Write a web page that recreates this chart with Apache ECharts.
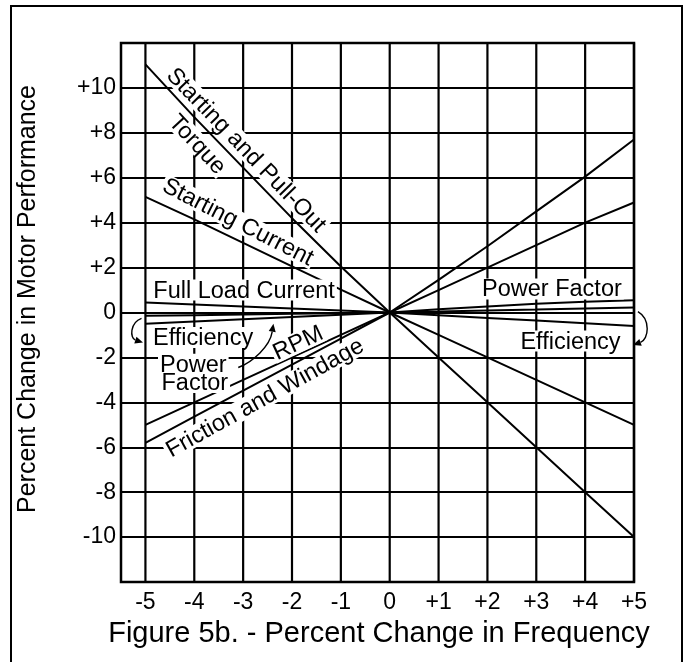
<!DOCTYPE html>
<html><head><meta charset="utf-8">
<script src="https://cdn.jsdelivr.net/npm/echarts@6/dist/echarts.min.js"></script>
<style>html,body{margin:0;padding:0;background:#fff}#c{width:688px;height:662px}</style>
</head><body><div id="c"></div>
<script>
// ---- data (percent change in motor performance vs percent change in frequency) ----
const freqX = [-5, -4, -3, -2, -1, 0, 1, 2, 3, 4, 5];
const torque = [11.05, 8.7, 6.45, 4.2, 2.05, 0, -2, -4, -6, -8, -10];
const startingCurrent = [5.15, 4.15, 3.1, 2.05, 1.02, 0, -1, -2, -3, -4, -5];
const fullLoadCurrent = [0.45, 0.36, 0.27, 0.18, 0.09, 0, -0.12, -0.24, -0.36, -0.48, -0.6];
const efficiency = [-0.15, -0.12, -0.09, -0.06, -0.03, 0, 0.04, 0.09, 0.13, 0.18, 0.22];
const powerFactor = [-0.5, -0.4, -0.3, -0.2, -0.1, 0, 0.14, 0.27, 0.39, 0.48, 0.55];
const rpm = [-5, -4, -3, -2, -1, 0, 1, 2, 3, 4, 4.9];
const frictionWindage = [-5.8, -4.64, -3.48, -2.32, -1.16, 0, 1.45, 2.95, 4.5, 6.05, 7.7];

const xTickValues = [-5, -4, -3, -2, -1, 0, 1, 2, 3, 4, 5];
const xTickLabels = ['-5', '-4', '-3', '-2', '-1', '0', '+1', '+2', '+3', '+4', '+5'];
const yTickValues = [-10, -8, -6, -4, -2, 0, 2, 4, 6, 8, 10];
const yTickLabels = ['-10', '-8', '-6', '-4', '-2', '0', '+2', '+4', '+6', '+8', '+10'];

const yTitle = 'Percent Change in Motor Performance';
const xTitle = 'Figure 5b. - Percent Change in Frequency';

// annotation texts, anchored in data coordinates
const annotTexts = ['Starting and Pull-Out', 'Torque', 'Starting Current', 'Full Load Current',
  'Efficiency', 'Power', 'Factor', 'RPM', 'Friction and Windage', 'Power Factor', 'Efficiency'];
const annotAnchors = [[-2.93, 7.25], [-3.93, 7.5], [-3.10, 4.05], [-2.98, 1.0],
  [-3.82, -1.11], [-4.02, -2.3], [-3.99, -3.12], [-1.88, -1.33], [-2.56, -3.78], [3.32, 1.05], [3.70, -1.27]];
const annotRotate = [-46, -47, -27, 0, 0, 0, 0, 25, 29, 0, 0];

// curved arrows (start, cp1, cp2, end) in data coordinates
const arrowPaths = [
  [[-5.08, -0.26], [-5.32, -0.45], [-5.32, -1.15], [-5.05, -1.34]],
  [[5.08, 0.04], [5.35, -0.3], [5.3, -1.2], [4.98, -1.45]],
  [[-3.1, -2.45], [-2.8, -2.2], [-2.45, -1.5], [-2.38, -0.5]]
];

const FONT = '"Liberation Sans", Arial, Helvetica, sans-serif';
const ANNOT_SIZE = 23.5;
const chart = echarts.init(document.getElementById('c'));
const mctx = document.createElement('canvas').getContext('2d');
function textWidth(t, size) { mctx.font = size + 'px ' + FONT; return mctx.measureText(t).width; }

const curves = [torque, startingCurrent, fullLoadCurrent, efficiency, powerFactor, rpm, frictionWindage];
const curveNames = ['Starting and Pull-Out Torque', 'Starting Current', 'Full Load Current', 'Efficiency', 'Power Factor', 'RPM', 'Friction and Windage'];
const lineSeries = curves.map((ys, k) => ({
  type: 'line', name: curveNames[k], data: freqX.map((x, i) => [x, ys[i]]),
  symbol: 'none', lineStyle: { color: '#000', width: 2 }, z: 3, silent: true
}));

chart.setOption({
  animation: false,
  backgroundColor: '#fff',
  grid: { left: 121, right: 54, top: 43, bottom: 80, show: true, borderColor: '#000', borderWidth: 2.5, backgroundColor: 'transparent' },
  xAxis: {
    type: 'value', min: -5.5, max: 5, interval: 0.5,
    axisLine: { show: false }, axisTick: { show: false }, splitLine: { show: false },
    axisLabel: {
      showMinLabel: true, showMaxLabel: true, margin: 9, color: '#000', fontSize: 23, fontFamily: FONT,
      formatter: v => { const i = xTickValues.indexOf(Math.round(v * 2) / 2); return i >= 0 ? xTickLabels[i] : ''; }
    }
  },
  yAxis: {
    type: 'value', min: -12, max: 12, interval: 2,
    axisLine: { show: false }, axisTick: { show: false },
    splitLine: { show: true, lineStyle: { color: '#000', width: 2.2 } },
    axisLabel: {
      margin: 5, color: '#000', fontSize: 23, fontFamily: FONT,
      formatter: v => { const i = yTickValues.indexOf(v); return i >= 0 ? yTickLabels[i] : ''; }
    }
  },
  graphic: [
    { type: 'rect', shape: { x: 11, y: 6, width: 671, height: 700 }, style: { fill: 'none', stroke: '#000', lineWidth: 2 }, z: -1 },
    { type: 'text', x: 28, y: 299, rotation: Math.PI / 2, style: { text: yTitle, fill: '#000', fontSize: 25, fontFamily: FONT, align: 'center', verticalAlign: 'middle' } },
    { type: 'text', x: 379, y: 634, style: { text: xTitle, fill: '#000', fontSize: 29, fontFamily: FONT, align: 'center', verticalAlign: 'middle' } }
  ],
  series: [
    {
      type: 'custom', name: 'vgrid', z: 2, silent: true,
      data: xTickValues.map(v => [v, 0]),
      renderItem: (params, api) => {
        const x = api.value(0);
        const p1 = api.coord([x, -12]), p2 = api.coord([x, 12]);
        return { type: 'line', shape: { x1: p1[0], y1: p1[1], x2: p2[0], y2: p2[1] }, style: { stroke: '#000', lineWidth: 2.2 } };
      }
    },
    ...lineSeries,
    {
      type: 'custom', name: 'labels', z: 10, silent: true,
      data: annotAnchors.map(a => [a[0], a[1]]),
      renderItem: (params, api) => {
        const i = params.dataIndex;
        const p = api.coord([api.value(0), api.value(1)]);
        const w = textWidth(annotTexts[i], ANNOT_SIZE) + 4, h = 21;
        return {
          type: 'group', x: p[0], y: p[1], rotation: annotRotate[i] * Math.PI / 180,
          children: [
            { type: 'rect', shape: { x: -w / 2, y: -h / 2, width: w, height: h }, style: { fill: '#fff' } },
            { type: 'text', style: { text: annotTexts[i], x: 0, y: 1, fill: '#000', fontSize: ANNOT_SIZE, fontFamily: FONT, align: 'center', verticalAlign: 'middle' } }
          ]
        };
      }
    },
    {
      type: 'custom', name: 'arrows', z: 11, silent: true,
      data: arrowPaths.map((p, i) => [i, 0]),
      renderItem: (params, api) => {
        const pts = arrowPaths[params.dataIndex].map(p => api.coord(p));
        const [a, b, c, d] = pts;
        const dx = d[0] - c[0], dy = d[1] - c[1], L = Math.hypot(dx, dy) || 1;
        const ux = dx / L, uy = dy / L, len = 8, hw = 3.5;
        const bx = d[0] - ux * len, by = d[1] - uy * len;
        return {
          type: 'group', children: [
            { type: 'bezierCurve', shape: { x1: a[0], y1: a[1], cpx1: b[0], cpy1: b[1], cpx2: c[0], cpy2: c[1], x2: bx, y2: by }, style: { stroke: '#000', fill: null, lineWidth: 1.4 } },
            { type: 'polygon', shape: { points: [[d[0], d[1]], [bx - uy * hw, by + ux * hw], [bx + uy * hw, by - ux * hw]] }, style: { fill: '#000' } }
          ]
        };
      }
    }
  ]
});
</script></body></html>
